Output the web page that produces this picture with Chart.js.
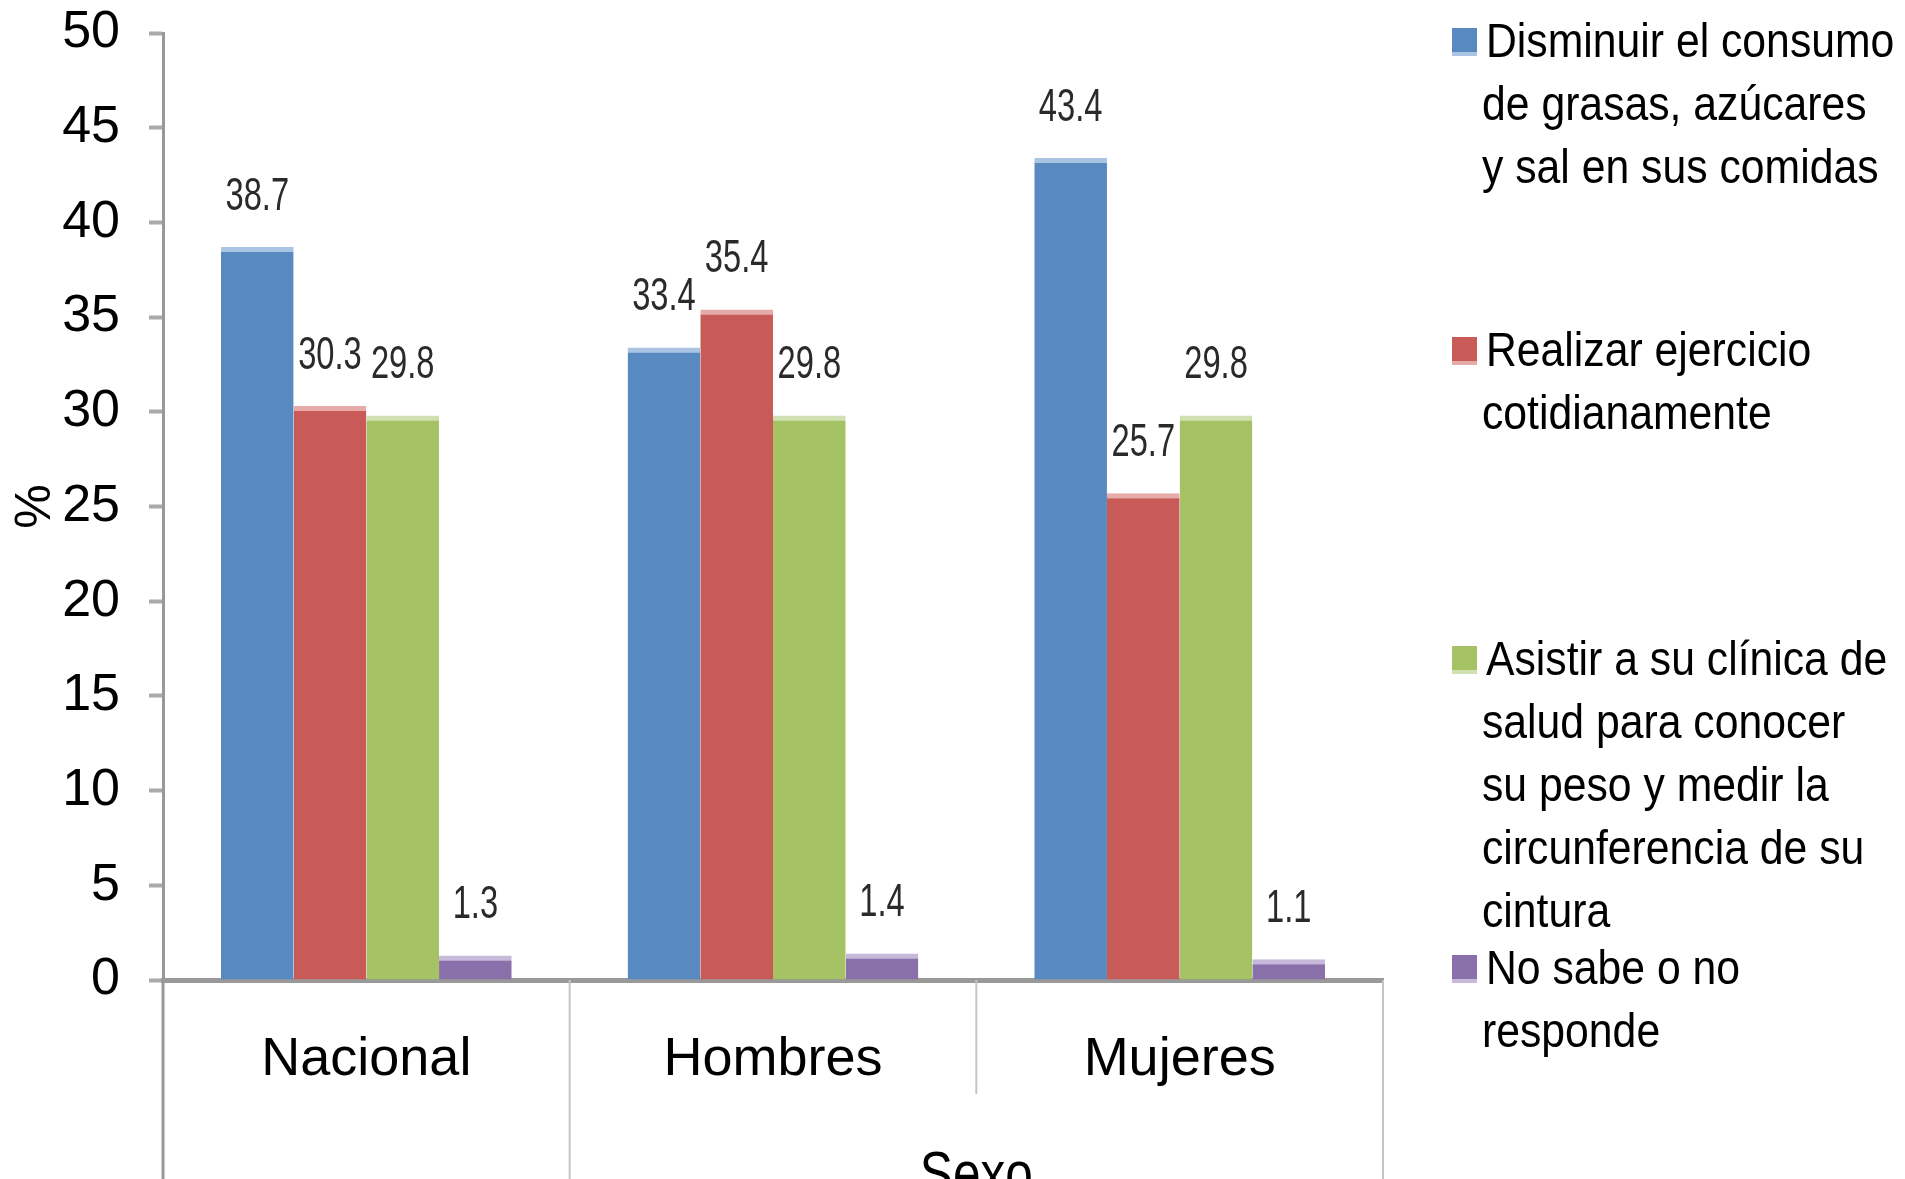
<!DOCTYPE html>
<html>
<head>
<meta charset="utf-8">
<script src="https://cdn.jsdelivr.net/npm/chart.js@4/dist/chart.umd.min.js"></script>
<style>
  html, body { margin: 0; padding: 0; background: #fff; }
  #wrap { width: 1905px; height: 1179px; position: relative; }
</style>
</head>
<body>
<div id="wrap"><canvas id="chart"></canvas></div>
<script>
// categories on the x axis
const categories = ["Nacional", "Hombres", "Mujeres"]
const groupTitle = "Sexo"

// series values (%)
const disminuir = [38.7, 33.4, 43.4]
const ejercicio = [30.3, 35.4, 25.7]
const clinica = [29.8, 29.8, 29.8]
const noSabe = [1.3, 1.4, 1.1]

// legend text, split the way it wraps in the picture
const legendLines = [
    ["Disminuir el consumo", "de grasas, azúcares", "y sal en sus comidas"],
    ["Realizar ejercicio", "cotidianamente"],
    ["Asistir a su clínica de", "salud para conocer", "su peso y medir la", "circunferencia de su", "cintura"],
    ["No sabe o no", "responde"]
]

const yTicks = [0, 5, 10, 15, 20, 25, 30, 35, 40, 45, 50]

const fills = ["#588AC1", "#C85B58", "#A5C264", "#8A70AB"]
const tops = ["#AAC5E4", "#E6AAA9", "#D0E0B0", "#C6B9DA"]

const FONT = "'Liberation Sans', Arial, sans-serif"

const series = [disminuir, ejercicio, clinica, noSabe]

// text in the picture is squeezed sideways, so draw it with a horizontal scale
function squeezed(ctx, text, x, y, sx) {
    ctx.save()
    ctx.translate(x, y)
    ctx.scale(sx, 1)
    ctx.fillText(text, 0, 0)
    ctx.restore()
}

// labels above each bar, legend on the right, and the two-level axis lines
const extras = {
    id: "extras",
    afterDatasetsDraw(chart) {
        const ctx = chart.ctx
        ctx.save()
        ctx.fillStyle = "#2a2a2a"
        ctx.font = "46px " + FONT
        ctx.textAlign = "center"
        ctx.textBaseline = "middle"
        chart.data.datasets.forEach((ds, i) => {
            chart.getDatasetMeta(i).data.forEach((bar, j) => {
                squeezed(ctx, ds.data[j].toFixed(1), bar.x, bar.y - 50, 0.71)
            })
        })
        ctx.restore()
    },
    afterDraw(chart) {
        const ctx = chart.ctx
        const x = chart.scales.x
        const bottom = chart.height
        const axisY = chart.chartArea.bottom
        const step = (x.right - x.left) / categories.length
        const bounds = categories.map((_, i) => x.left + i * step).concat([x.right])

        ctx.save()
        // separators under the axis
        ctx.strokeStyle = "#C4C4C4"
        ctx.lineWidth = 2
        bounds.forEach((bx, i) => {
            const long = i !== 2
            ctx.beginPath()
            ctx.moveTo(bx, axisY)
            ctx.lineTo(bx, long ? bottom : axisY + 114)
            ctx.stroke()
        })
        // y axis runs down to the bottom edge
        ctx.strokeStyle = "#999"
        ctx.lineWidth = 3
        ctx.beginPath()
        ctx.moveTo(x.left, axisY)
        ctx.lineTo(x.left, bottom)
        ctx.stroke()

        // group title
        ctx.fillStyle = "#000"
        ctx.font = "62px " + FONT
        ctx.textAlign = "center"
        ctx.textBaseline = "top"
        squeezed(ctx, groupTitle, (bounds[1] + bounds[3]) / 2, 1146, 0.8)

        // legend
        ctx.font = "48px " + FONT
        ctx.textAlign = "left"
        ctx.textBaseline = "alphabetic"
        legendLines.forEach((lines, i) => {
            const base = 57 + i * 309
            ctx.fillStyle = fills[i]
            ctx.fillRect(1452, base - 29, 25, 25)
            ctx.fillStyle = tops[i]
            ctx.fillRect(1452, base - 5, 25, 4)
            ctx.fillStyle = "#000"
            lines.forEach((t, k) => {
                squeezed(ctx, t, k === 0 ? 1486 : 1482, base + k * 63, 0.89)
            })
        })
        ctx.restore()
    }
}

new Chart(document.getElementById("chart"), {
    type: "bar",
    data: {
        labels: categories,
        datasets: series.map((vals, i) => ({
            label: legendLines[i].join(" "),
            data: vals,
            backgroundColor: fills[i],
            borderColor: tops[i],
            borderWidth: { top: 5, right: 0, bottom: 0, left: 0 },
            borderSkipped: "bottom",
            barPercentage: 1,
            categoryPercentage: 0.715
        }))
    },
    plugins: [extras],
    options: {
        responsive: true,
        maintainAspectRatio: false,
        animation: false,
        layout: { padding: { top: 33, right: 522, bottom: 0, left: 0 } },
        plugins: {
            legend: { display: false },
            tooltip: { enabled: false }
        },
        scales: {
            x: {
                afterFit: (scale) => { scale.height = 199 },
                border: { color: "#999", width: 5 },
                grid: { display: false },
                ticks: {
                    color: "#000",
                    padding: 40,
                    font: { family: FONT, size: 54 }
                }
            },
            y: {
                min: 0,
                max: 50,
                afterFit: (scale) => { scale.width = 163 },
                afterBuildTicks: (scale) => { scale.ticks = yTicks.map(v => ({ value: v })) },
                border: { color: "#999", width: 3 },
                grid: {
                    drawOnChartArea: false,
                    drawTicks: true,
                    // long tick so the labels sit away from the axis, only the inner part is visible
                    tickLength: 43,
                    tickBorderDash: [0, 29, 14, 200],
                    tickColor: "#AAA",
                    tickWidth: 4
                },
                ticks: {
                    color: "#000",
                    padding: 0,
                    font: { family: FONT, size: 52 }
                },
                title: {
                    display: true,
                    text: "%",
                    color: "#000",
                    padding: { top: 6, bottom: 0 },
                    font: { family: FONT, size: 50 }
                }
            }
        }
    }
})
</script>
</body>
</html>
